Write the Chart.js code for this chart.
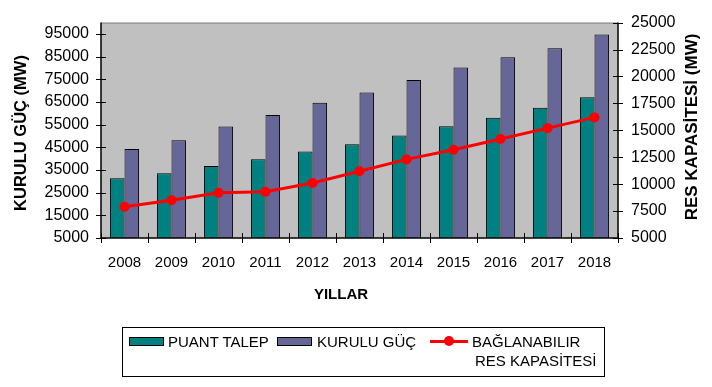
<!DOCTYPE html>
<html>
<head>
<meta charset="utf-8">
<script src="https://cdn.jsdelivr.net/npm/chart.js@4/dist/chart.umd.min.js"></script>
<style>
  body { margin: 0; background: #fff; font-family: "Liberation Sans", Arial, sans-serif; }
  #wrap { position: relative; width: 712px; height: 387px; }
  #legend {
    position: absolute; left: 122px; top: 327px; width: 481px; height: 48px;
    border: 1px solid #000; box-sizing: content-box;
  }
  #legend .sw { position: absolute; top: 9px; width: 33px; height: 7px; border: 1px solid #000; }
  #legend .tx { position: absolute; font-size: 15px; line-height: 17px; color: #000; white-space: nowrap; }
  #legend .ln { position: absolute; top: 12px; left: 307px; width: 38px; height: 3px; background: #ff0000; }
  #legend .dot { position: absolute; top: 8px; left: 321px; width: 10px; height: 10px; border-radius: 50%; background: #ff0000; }
</style>
</head>
<body>
<div id="wrap">
  <canvas id="chart" width="712" height="387"></canvas>
  <div id="legend">
    <div class="sw" style="left:6px;background:#008080"></div>
    <div class="tx" style="left:45px;top:5px">PUANT TALEP</div>
    <div class="sw" style="left:154px;background:#666699"></div>
    <div class="tx" style="left:194px;top:5px">KURULU GÜÇ</div>
    <div class="ln"></div>
    <div class="dot"></div>
    <div class="tx" style="left:349px;top:5px">BAĞLANABILIR</div>
    <div class="tx" style="left:352px;top:24px">RES KAPASİTESİ</div>
  </div>
</div>
<script>
// values
const years = ['2008', '2009', '2010', '2011', '2012', '2013', '2014', '2015', '2016', '2017', '2018'];
const puantTalep = [31300, 33600, 36800, 39700, 43200, 46300, 50200, 54300, 58000, 62500, 67100];
const kuruluGuc = [44200, 48100, 54200, 59200, 64700, 69200, 74700, 80200, 84700, 88700, 94700];
const resKapasitesi = [7900, 8500, 9200, 9300, 10100, 11200, 12300, 13200, 14200, 15200, 16200];
const leftTicks = [5000, 15000, 25000, 35000, 45000, 55000, 65000, 75000, 85000, 95000];
const rightTicks = [5000, 7500, 10000, 12500, 15000, 17500, 20000, 22500, 25000];

const FONT = '"Liberation Sans", Arial, sans-serif';

// plot background, axis lines, crossing tick marks and axis titles
const frame = {
  id: 'frame',
  beforeDraw(chart) {
    const { ctx, chartArea: a } = chart;
    ctx.save();
    ctx.fillStyle = '#c0c0c0';
    ctx.fillRect(a.left, a.top, a.right - a.left, a.bottom - a.top);
    ctx.restore();
  },
  afterDraw(chart) {
    const { ctx, chartArea: a, scales } = chart;
    ctx.save();
    ctx.lineWidth = 1;
    ctx.strokeStyle = '#808080';
    ctx.beginPath();
    ctx.moveTo(a.left, a.top + 0.5);
    ctx.lineTo(a.right, a.top + 0.5);
    ctx.stroke();

    ctx.strokeStyle = '#000';
    ctx.lineWidth = 1.5;
    ctx.beginPath();
    ctx.moveTo(a.left, a.top);
    ctx.lineTo(a.left, a.bottom);
    ctx.lineTo(a.right, a.bottom);
    ctx.lineTo(a.right, a.top);
    ctx.stroke();

    ctx.lineWidth = 1;
    ctx.beginPath();
    leftTicks.forEach(v => {
      const y = Math.round(scales.y.getPixelForValue(v)) + 0.5;
      ctx.moveTo(a.left - 5, y);
      ctx.lineTo(a.left + 5, y);
    });
    rightTicks.forEach(v => {
      const y = Math.round(scales.y1.getPixelForValue(v)) + 0.5;
      ctx.moveTo(a.right - 5, y);
      ctx.lineTo(a.right + 5, y);
    });
    const step = (a.right - a.left) / years.length;
    for (let i = 0; i <= years.length; i++) {
      const x = Math.round(scales.x.getPixelForValue(i) - step / 2) + 0.5;
      ctx.moveTo(x, a.bottom - 5);
      ctx.lineTo(x, a.bottom + 5);
    }
    ctx.stroke();

    ctx.fillStyle = '#000';
    ctx.textAlign = 'center';
    ctx.textBaseline = 'middle';
    ctx.font = 'bold 15px ' + FONT;
    ctx.fillText('YILLAR', 341, 295);

    ctx.save();
    ctx.translate(21, 133);
    ctx.rotate(-Math.PI / 2);
    ctx.font = 'bold 16.5px ' + FONT;
    ctx.fillText('KURULU GÜÇ (MW)', 0, 0);
    ctx.restore();

    ctx.save();
    ctx.translate(692, 127);
    ctx.rotate(-Math.PI / 2);
    ctx.font = 'bold 17px ' + FONT;
    ctx.fillText('RES KAPASİTESİ (MW)', 0, 0);
    ctx.restore();
    ctx.restore();
  }
};

new Chart(document.getElementById('chart'), {
  data: {
    labels: years,
    datasets: [
      {
        type: 'line',
        label: 'BAĞLANABILIR RES KAPASİTESİ',
        data: resKapasitesi,
        yAxisID: 'y1',
        borderColor: '#ff0000',
        backgroundColor: '#ff0000',
        borderWidth: 3,
        pointRadius: 5,
        pointBorderWidth: 0,
        tension: 0,
        order: 0
      },
      {
        type: 'bar',
        label: 'PUANT TALEP',
        data: puantTalep,
        yAxisID: 'y',
        backgroundColor: '#008080',
        borderColor: '#000',
        borderWidth: 1,
        borderSkipped: false,
        order: 1
      },
      {
        type: 'bar',
        label: 'KURULU GÜÇ',
        data: kuruluGuc,
        yAxisID: 'y',
        backgroundColor: '#666699',
        borderColor: '#000',
        borderWidth: 1,
        borderSkipped: false,
        order: 1
      }
    ]
  },
  options: {
    responsive: false,
    animation: false,
    devicePixelRatio: 1,
    layout: { padding: { top: 14, left: 0, right: 0, bottom: 0 } },
    datasets: { bar: { categoryPercentage: 0.62, barPercentage: 1 } },
    plugins: { legend: { display: false }, tooltip: { enabled: false } },
    scales: {
      x: {
        offset: true,
        grid: { display: false, drawTicks: false },
        border: { display: false },
        ticks: { color: '#000', padding: 16, font: { family: FONT, size: 15 }, maxRotation: 0 },
        afterFit(s) { s.height = 149; }
      },
      y: {
        position: 'left',
        min: 5000,
        max: 100000,
        grid: { display: false, drawTicks: false },
        border: { display: false },
        ticks: { color: '#000', padding: 12, font: { family: FONT, size: 16 }, callback: v => String(v) },
        afterBuildTicks(s) { s.ticks = leftTicks.map(v => ({ value: v })); },
        afterFit(s) { s.width = 101; }
      },
      y1: {
        position: 'right',
        min: 5000,
        max: 25000,
        grid: { display: false, drawTicks: false },
        border: { display: false },
        ticks: { color: '#000', padding: 13, font: { family: FONT, size: 16 }, callback: v => String(v) },
        afterBuildTicks(s) { s.ticks = rightTicks.map(v => ({ value: v })); },
        afterFit(s) { s.width = 94; }
      }
    }
  },
  plugins: [frame]
});
</script>
</body>
</html>
